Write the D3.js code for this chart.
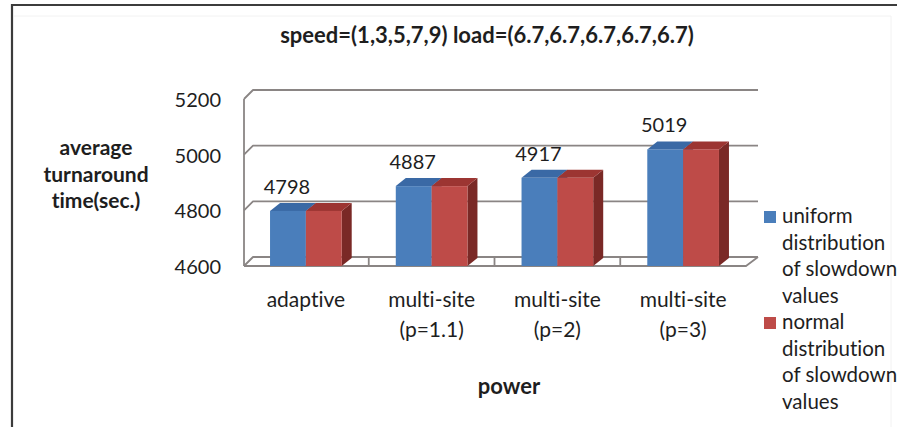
<!DOCTYPE html>
<html>
<head>
<meta charset="utf-8">
<script src="https://cdn.jsdelivr.net/npm/d3@7/dist/d3.min.js"></script>
<style>
  body { margin: 0; background: #ffffff; }
  svg { display: block; font-family: Lato, "Open Sans", sans-serif; font-variant-ligatures: none; }
</style>
</head>
<body>
<svg id="chart" width="897" height="427"></svg>
<script>
// ---- data ----
const categories = ["adaptive", "multi-site\n(p=1.1)", "multi-site\n(p=2)", "multi-site\n(p=3)"];
const seriesKeys = ["uniform", "normal"];
const uniformValues = [4798, 4887, 4917, 5019];
const normalValues = [4798, 4887, 4917, 5019];
const yTicks = [4600, 4800, 5000, 5200];
const legendLabels = [
  ["uniform", "distribution", "of slowdown", "values"],
  ["normal", "distribution", "of slowdown", "values"]
];
const titleText = "speed=(1,3,5,7,9) load=(6.7,6.7,6.7,6.7,6.7)";
const yTitleLines = ["average", "turnaround", "time(sec.)"];
const xTitleText = "power";

// ---- styling ----
const colors = {
  uniform: { front: "#4a7ebb", top: "#3a69a5", side: "#365f91" },
  normal:  { front: "#be4b48", top: "#9c3532", side: "#7a2926" }
};
const gridColor = "#8a8584";
const textColor = "#1e1e1e";

const svg = d3.select("#chart");

// frame around the chart area
svg.append("rect").attr("width", 897).attr("height", 427).attr("fill", "#ffffff");
svg.append("path").attr("d", "M12,427V5H897").attr("fill", "none")
  .attr("stroke", "#3c3c3c").attr("stroke-width", 2.2);
svg.append("path").attr("d", "M14,16H891V427").attr("fill", "none")
  .attr("stroke", "#f2f2f2").attr("stroke-width", 1);

// ---- scales ----
const x0 = d3.scaleBand().domain(categories).range([243, 746])
  .paddingInner(0.43).paddingOuter(0.215);
const x1 = d3.scaleBand().domain(seriesKeys).range([0, x0.bandwidth()]);
const y = d3.scaleLinear().domain([4600, 5200]).range([266, 99]);

// 3D offsets: floor/wall depth and bar depth
const wall = { dx: 9, dy: 9 };        // left side
const wallR = { dx: 12, dy: 9 };      // right side
const bar = { dx: 10, dy: 8 };
const leftFront = 244, leftBack = leftFront + wall.dx;
const rightFront = 746, rightBack = rightFront + wallR.dx;

// ---- back wall gridlines and side wall ----
const grid = svg.append("g").attr("fill", "none").attr("stroke", gridColor)
  .attr("stroke-width", 1.8).attr("stroke-linejoin", "round");

yTicks.forEach(t => {
  const yb = y(t) - wall.dy;
  grid.append("path").attr("d", `M${leftFront},${y(t)}L${leftBack},${yb}H${rightBack}`);
});
grid.append("path").attr("d", `M${leftFront},${y(5200)}V${y(4600)}`);
// floor front edge and right edge
grid.append("path").attr("d", `M${leftFront},${y(4600)}H${rightFront}L${rightBack},${y(4600) - wallR.dy}`);
// floor dividers between categories
categories.slice(1).forEach(c => {
  const bx = x0(c) - x0.step() * 0.215;
  grid.append("path").attr("d", `M${bx},${y(4600)}V${y(4600) - wall.dy}`);
});

// ---- bars ----
const rows = categories.map((c, i) => ({ cat: c, uniform: uniformValues[i], normal: normalValues[i] }));
const barsG = svg.append("g");

rows.forEach(r => {
  seriesKeys.forEach(k => {
    const xa = x0(r.cat) + x1(k);
    const xb = xa + x1.bandwidth();
    const yt = y(r[k]);
    const yB = y(4600);
    const col = colors[k];
    const g = barsG.append("g");
    g.append("path").attr("fill", col.side)
      .attr("d", `M${xb},${yt}L${xb + bar.dx},${yt - bar.dy}V${yB - bar.dy}L${xb},${yB}Z`);
    g.append("path").attr("fill", col.top)
      .attr("d", `M${xa},${yt}L${xa + bar.dx},${yt - bar.dy}H${xb + bar.dx}L${xb},${yt}Z`);
    g.append("rect").attr("fill", col.front)
      .attr("x", xa).attr("y", yt).attr("width", xb - xa).attr("height", yB - yt);
  });
});

// value labels above the uniform bars
svg.append("g").selectAll("text").data(rows).join("text")
  .attr("x", d => x0(d.cat) + x1("uniform") + x1.bandwidth() / 2 - 1)
  .attr("y", d => y(d.uniform) - 17)
  .attr("text-anchor", "middle")
  .attr("font-size", 20).attr("fill", textColor)
  .text(d => d.uniform);

// ---- axes ----
const yAxis = svg.append("g").attr("transform", "translate(221,1)")
  .call(d3.axisLeft(y).tickValues(yTicks).tickSize(0).tickPadding(0).tickFormat(d3.format("d")));
yAxis.select(".domain").remove();
yAxis.selectAll("text").attr("font-size", 20).attr("font-family", "Lato, sans-serif").attr("fill", textColor);

const xAxis = svg.append("g").attr("transform", "translate(0,0)")
  .call(d3.axisBottom(x0).tickSize(0));
xAxis.select(".domain").remove();
xAxis.selectAll(".tick").attr("transform", d => `translate(${x0(d) + x0.bandwidth() / 2},0)`);
xAxis.selectAll("text").each(function (d) {
  const t = d3.select(this).text(null).attr("dy", null).attr("y", 0)
    .attr("font-size", 21).attr("font-family", "Lato, sans-serif").attr("fill", textColor);
  d.split("\n").forEach((line, i) => {
    t.append("tspan").attr("x", 0).attr("y", 307 + i * 30).text(line);
  });
});

// ---- titles ----
svg.append("text").attr("x", 487).attr("y", 43).attr("text-anchor", "middle")
  .attr("font-weight", "bold").attr("font-size", 22).attr("fill", textColor).text(titleText);

const yTitle = svg.append("text").attr("text-anchor", "middle")
  .attr("font-weight", "bold").attr("font-size", 21).attr("fill", textColor);
yTitleLines.forEach((line, i) => {
  yTitle.append("tspan").attr("x", 96).attr("y", 155 + i * 26.5).text(line);
});

svg.append("text").attr("x", 509).attr("y", 394).attr("text-anchor", "middle")
  .attr("font-weight", "bold").attr("font-size", 22).attr("fill", textColor).text(xTitleText);

// ---- legend ----
const legend = svg.append("g");
seriesKeys.forEach((k, si) => {
  const top = 223 + si * 106;
  legend.append("rect").attr("x", 764).attr("y", top - 12).attr("width", 12).attr("height", 12)
    .attr("fill", colors[k].front);
  const t = legend.append("text").attr("font-size", 20.5).attr("fill", textColor);
  legendLabels[si].forEach((line, i) => {
    t.append("tspan").attr("x", 782).attr("y", top + i * 26.5).text(line);
  });
});
</script>
</body>
</html>
